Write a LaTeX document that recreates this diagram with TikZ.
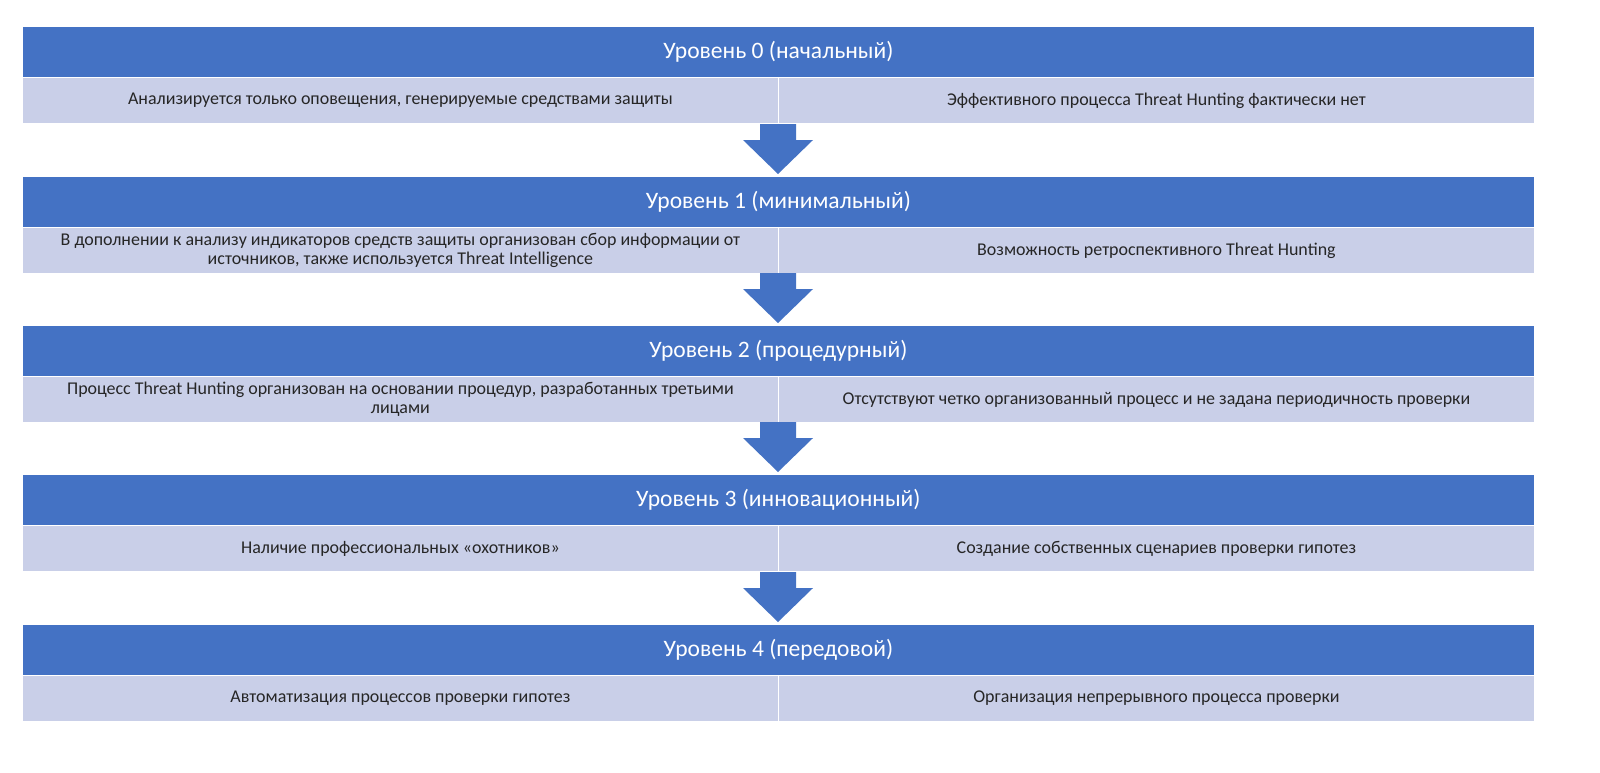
\documentclass[tikz,border=0pt]{standalone}
\usepackage{fontspec}
\setmainfont{Carlito}
\definecolor{hdr}{HTML}{4472C4}
\definecolor{sub}{HTML}{C9CFE8}
\definecolor{txt}{HTML}{262626}
\begin{document}
\begin{tikzpicture}[x=1.019pt,y=-1.019pt,
 hd/.style={draw=white,line width=0.8pt,fill=hdr,minimum width=1540.7pt,minimum height=52pt,inner sep=0pt,text=white,font=\fontsize{24}{27}\selectfont,anchor=north west},
 sb/.style={draw=white,line width=0.8pt,fill=sub,minimum width=770.4pt,minimum height=46.9pt,inner sep=0pt,text=txt,font=\fontsize{18.3}{20}\selectfont,align=center,anchor=north west},
 arr/.style={fill=hdr}]
\fill[white] (0,0) rectangle (1600,772);
\foreach \i/\y/\t/\a/\b in {
 0/26/{Уровень 0 (начальный)}/{Анализируется только оповещения, генерируемые средствами защиты}/{Эффективного процесса Threat Hunting фактически нет},
 1/176/{Уровень 1 (минимальный)}/{В дополнении к анализу индикаторов средств защиты организован сбор информации от\\источников, также используется Threat Intelligence}/{Возможность ретроспективного Threat Hunting},
 2/325/{Уровень 2 (процедурный)}/{Процесс Threat Hunting организован на основании процедур, разработанных третьими\\лицами}/{Отсутствуют четко организованный процесс и не задана периодичность проверки},
 3/474/{Уровень 3 (инновационный)}/{Наличие профессиональных «охотников»}/{Создание собственных сценариев проверки гипотез},
 4/624/{Уровень 4 (передовой)}/{Автоматизация процессов проверки гипотез}/{Организация непрерывного процесса проверки}}{
 \node[hd] (h\i) at (22,\y) {\t};
 \node[sb] (l\i) at (22,\y+51) {\a};
 \node[sb] (r\i) at (778,\y+51) {\b};
}
\foreach \y in {124,273,422,572}{
 \fill[arr] (760,\y) -- (796,\y) -- (796,\y+16) -- (813,\y+16) -- (778,\y+50) -- (743,\y+16) -- (760,\y+16) -- cycle;
}
\pgfresetboundingbox
\useasboundingbox (0,0) rectangle (1600,772);
\end{tikzpicture}
\end{document}
